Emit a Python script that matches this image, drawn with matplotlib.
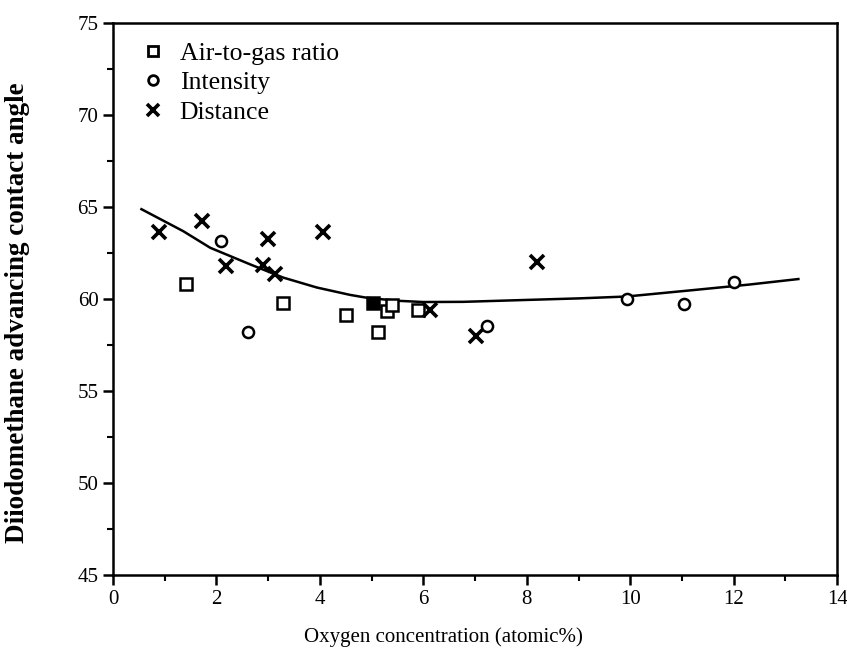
import matplotlib.pyplot as plt
from matplotlib.ticker import MultipleLocator

plt.rcParams['font.family'] = ['Liberation Serif', 'DejaVu Serif']

# air-to-gas ratio (squares)
air_x = [1.41, 3.29, 4.50, 5.03, 5.13, 5.30, 5.40, 5.90]
air_y = [60.82, 59.81, 59.12, 59.80, 58.23, 59.37, 59.70, 59.43]
air_filled = [False, False, False, True, False, False, False, False]

# intensity (circles)
int_x = [2.09, 2.61, 7.23, 9.94, 11.03, 12.01]
int_y = [63.17, 58.23, 58.56, 60.02, 59.75, 60.95]

# distance (crosses)
dist_x = [0.89, 1.73, 2.19, 2.90, 3.00, 3.13, 4.06, 6.13, 7.02, 8.20]
dist_y = [63.66, 64.26, 61.80, 61.87, 63.28, 61.38, 63.68, 59.43, 58.02, 62.03]

# fitted curve
fit_x = [0.55, 1.36, 1.88, 2.65, 3.29, 3.94, 4.58, 4.91, 5.49, 6.0, 6.77,
         8.07, 9.03, 9.93, 11.22, 12.3, 13.25]
fit_y = [64.9, 63.7, 62.8, 61.9, 61.18, 60.64, 60.24, 60.08, 59.92, 59.85,
         59.86, 59.97, 60.05, 60.15, 60.5, 60.8, 61.1]

fig = plt.figure(figsize=(8.47, 6.52), dpi=100)
ax = fig.add_axes([0.1334, 0.118, 0.855, 0.846])

ax.plot(fit_x, fit_y, color='black', lw=1.8, zorder=2)

for x, y, f in zip(air_x, air_y, air_filled):
    ax.plot(x, y, marker='s', ms=8, mec='black', mew=1.8,
            mfc='black' if f else 'white', ls='none', zorder=3)
ax.plot(int_x, int_y, 'o', ms=8, mec='black', mew=1.8, mfc='white', zorder=3)
ax.plot(dist_x, dist_y, 'x', ms=10, color='black', mew=2.6, zorder=3)

# legend
h1, = ax.plot([], [], 's', ms=7, mec='black', mew=2.0, mfc='white')
h2, = ax.plot([], [], 'o', ms=7, mec='black', mew=2.0, mfc='white')
h3, = ax.plot([], [], 'x', ms=8, color='black', mew=2.6)
ax.legend([h1, h2, h3], ['Air-to-gas ratio', 'Intensity', 'Distance'],
          loc='upper left', frameon=False, fontsize=18.5, handlelength=1.0,
          handletextpad=0.55, labelspacing=0.25, borderaxespad=0.0,
          bbox_to_anchor=(0.023, 0.985))

ax.set_xlim(0, 14)
ax.set_ylim(45, 75)
ax.xaxis.set_major_locator(MultipleLocator(2))
ax.xaxis.set_minor_locator(MultipleLocator(1))
ax.yaxis.set_major_locator(MultipleLocator(5))
ax.yaxis.set_minor_locator(MultipleLocator(2.5))
ax.tick_params(which='major', direction='out', length=7, width=1.8, labelsize=15)
ax.tick_params(which='minor', direction='out', length=4, width=1.5)
for s in ax.spines.values():
    s.set_linewidth(1.8)

ax.set_xlabel('Oxygen concentration (atomic%)', fontsize=15)
ax.xaxis.set_label_coords(0.456, -0.094)
ax.set_ylabel('Diiodomethane advancing contact angle', fontsize=19.5,
              fontweight='bold')
ax.yaxis.set_label_coords(-0.114, 0.476)

fig.savefig('out.png', dpi=100)
